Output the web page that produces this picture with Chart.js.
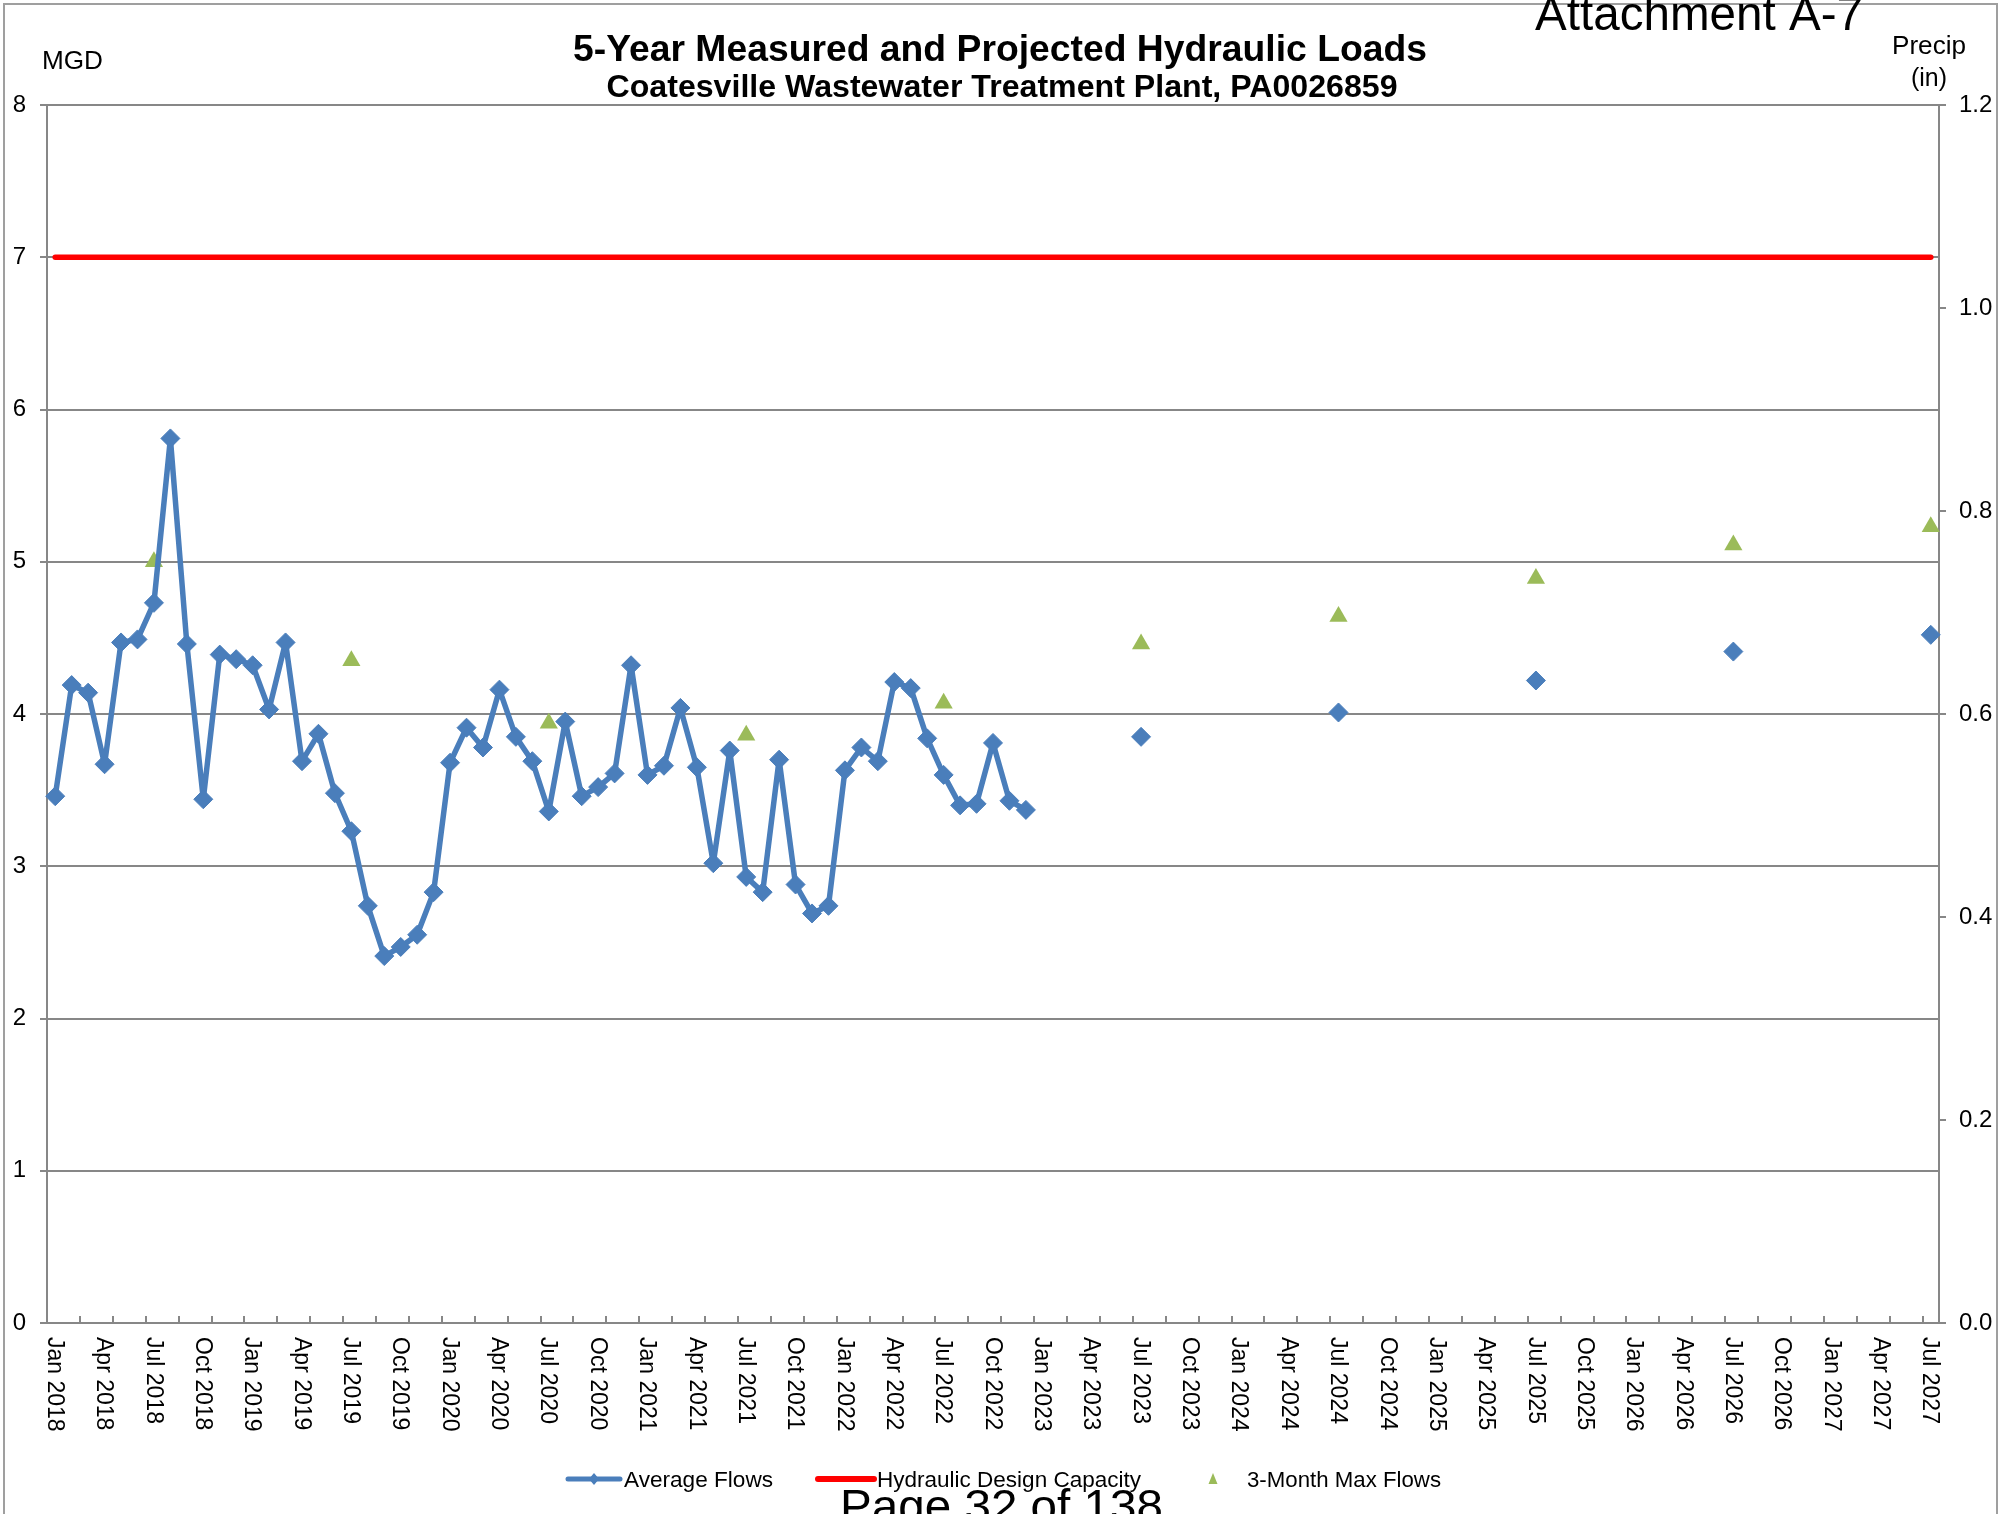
<!DOCTYPE html>
<html>
<head>
<meta charset="utf-8">
<script src="https://cdn.jsdelivr.net/npm/chart.js@4.4.1/dist/chart.umd.min.js"></script>
<style>
html,body{margin:0;padding:0;background:#fff;}
#wrap{position:relative;width:2011px;height:1514px;overflow:hidden;background:#fff;}
canvas{display:block;}
</style>
</head>
<body>
<div id="wrap"><canvas id="c" width="2011" height="1514"></canvas></div>
<script>
// ---------------- DATA ----------------
const monthNames = ['Jan','Feb','Mar','Apr','May','Jun','Jul','Aug','Sep','Oct','Nov','Dec'];
const firstYear = 2018, lastYear = 2027, lastMonthIndex = 6; // through Jul 2027
const categories = [];
for (let y = firstYear; y <= lastYear; y++) {
  for (let m = 0; m < 12; m++) {
    if (y === lastYear && m > lastMonthIndex) break;
    categories.push(monthNames[m] + ' ' + y);
  }
}

// Measured monthly average flows (MGD), Jan 2018 - Dec 2022
const measuredAvgFlows = [
  3.46, 4.19, 4.14, 3.67, 4.47, 4.49, 4.73, 5.81, 4.46, 3.44, 4.39, 4.36,
  4.32, 4.03, 4.47, 3.69, 3.87, 3.48, 3.23, 2.74, 2.41, 2.47, 2.55, 2.83,
  3.68, 3.91, 3.78, 4.16, 3.85, 3.69, 3.36, 3.95, 3.46, 3.52, 3.61, 4.32,
  3.60, 3.66, 4.04, 3.65, 3.02, 3.76, 2.93, 2.83, 3.70, 2.88, 2.69, 2.74,
  3.63, 3.78, 3.69, 4.21, 4.17, 3.84, 3.60, 3.40, 3.41, 3.81, 3.43, 3.37
];

// Projected average flows
const projectedMonths = ['Jul 2023','Jul 2024','Jul 2025','Jul 2026','Jul 2027'];
const projectedAvgFlows = [3.85, 4.01, 4.22, 4.41, 4.52];

// 3-month max flows
const maxFlowMonths = ['Jul 2018','Jul 2019','Jul 2020','Jul 2021','Jul 2022','Jul 2023','Jul 2024','Jul 2025','Jul 2026','Jul 2027'];
const maxFlows = [5.00, 4.35, 3.94, 3.86, 4.07, 4.46, 4.64, 4.89, 5.11, 5.23];

// Hydraulic design capacity (MGD)
const designCapacity = 7;

// Axis settings
const leftAxis = {min: 0, max: 8, step: 1};
const rightAxis = {min: 0, max: 1.2, step: 0.2};
const xLabelEvery = 3;   // a label every 3 months
const xTickEvery = 2;    // a tick mark every 2 months

// ---------------- STYLE ----------------
const FONT = '"Liberation Sans", Arial, Helvetica, sans-serif';
const BLUE = '#4A7EBB';
const GREEN = '#9BBB59';
const RED = '#FF0000';
const GRID = '#878787';
const FRAME = '#9f9f9f';

function fitText(ctx, text, x, y, size, weight, targetW, align) {
  ctx.font = weight + ' ' + size + 'px ' + FONT;
  const w = ctx.measureText(text).width;
  const sx = targetW ? targetW / w : 1;
  ctx.save();
  ctx.translate(x, y);
  ctx.scale(sx, 1);
  ctx.textAlign = align;
  ctx.textBaseline = 'alphabetic';
  ctx.fillStyle = '#000';
  ctx.fillText(text, 0, 0);
  ctx.restore();
}

const decor = {
  id: 'decor',
  afterDraw(chart) {
    const ctx = chart.ctx;
    const xs = chart.scales.x;
    const area = chart.chartArea;
    const n = categories.length;
    const catW = xs.getPixelForValue(1) - xs.getPixelForValue(0);

    // outer frame
    ctx.save();
    ctx.strokeStyle = FRAME;
    ctx.lineWidth = 2;
    ctx.beginPath();
    ctx.moveTo(4, 1514); ctx.lineTo(4, 4); ctx.lineTo(1997, 4); ctx.lineTo(1997, 1514);
    ctx.stroke();
    ctx.restore();

    // x tick marks (inside, pointing up)
    ctx.save();
    ctx.strokeStyle = GRID;
    ctx.lineWidth = 2;
    ctx.beginPath();
    for (let i = 0; i < n; i += xTickEvery) {
      const px = Math.round(xs.getPixelForValue(i) - catW / 2);
      ctx.moveTo(px, area.bottom);
      ctx.lineTo(px, area.bottom - 7);
    }
    ctx.stroke();
    ctx.restore();

    // x labels rotated clockwise
    ctx.save();
    ctx.fillStyle = '#000';
    ctx.font = '23px ' + FONT;
    ctx.textAlign = 'left';
    ctx.textBaseline = 'middle';
    for (let i = 0; i < n; i += xLabelEvery) {
      const px = xs.getPixelForValue(i);
      ctx.save();
      ctx.translate(px - 1, area.bottom + 14);
      ctx.rotate(Math.PI / 2);
      ctx.fillText(categories[i], 0, 0);
      ctx.restore();
    }
    ctx.restore();

    // titles and axis captions
    fitText(ctx, '5-Year Measured and Projected Hydraulic Loads', 1000, 61, 37, 'bold', 854, 'center');
    fitText(ctx, 'Coatesville Wastewater Treatment Plant, PA0026859', 1002, 97, 31, 'bold', 791, 'center');
    fitText(ctx, 'MGD', 42, 69, 26, 'normal', 61, 'left');
    fitText(ctx, 'Precip', 1929, 54, 25, 'normal', 74, 'center');
    fitText(ctx, '(in)', 1929, 86, 25, 'normal', 36, 'center');
    fitText(ctx, 'Attachment A-7', 1535, 30, 48, 'normal', 328, 'left');
    fitText(ctx, 'Page 32 of 138', 840, 1522, 47, 'normal', 323, 'left');

    // legend
    const ly = 1479;
    ctx.save();
    ctx.lineCap = 'round';
    ctx.strokeStyle = BLUE; ctx.lineWidth = 5;
    ctx.beginPath(); ctx.moveTo(568, ly); ctx.lineTo(620, ly); ctx.stroke();
    ctx.fillStyle = BLUE;
    ctx.beginPath(); ctx.moveTo(594, ly - 6); ctx.lineTo(599, ly); ctx.lineTo(594, ly + 6); ctx.lineTo(589, ly); ctx.closePath(); ctx.fill();
    ctx.strokeStyle = RED; ctx.lineWidth = 6;
    ctx.beginPath(); ctx.moveTo(818, ly); ctx.lineTo(874, ly); ctx.stroke();
    ctx.fillStyle = GREEN;
    ctx.beginPath(); ctx.moveTo(1213, ly - 6); ctx.lineTo(1217.5, ly + 5); ctx.lineTo(1208.5, ly + 5); ctx.closePath(); ctx.fill();
    ctx.restore();
    fitText(ctx, 'Average Flows', 624, ly + 8, 22.5, 'normal', 149, 'left');
    fitText(ctx, 'Hydraulic Design Capacity', 877, ly + 8, 22.5, 'normal', 264, 'left');
    fitText(ctx, '3-Month Max Flows', 1247, ly + 8, 22.5, 'normal', 194, 'left');
  }
};

const ctx = document.getElementById('c').getContext('2d');
new Chart(ctx, {
  type: 'line',
  data: {
    labels: categories,
    datasets: [
      {
        label: 'Average Flows',
        data: measuredAvgFlows.map((v, i) => ({x: categories[i], y: v})),
        borderColor: BLUE, backgroundColor: BLUE,
        borderWidth: 5.5, tension: 0, borderJoinStyle: 'round', borderCapStyle: 'round',
        pointStyle: 'rectRot', pointRadius: 9.5, pointBorderWidth: 1,
        pointBackgroundColor: BLUE, pointBorderColor: BLUE,
        yAxisID: 'y', order: 1
      },
      {
        label: 'Average Flows (projected)',
        data: projectedMonths.map((m, i) => ({x: m, y: projectedAvgFlows[i]})),
        showLine: false,
        borderColor: BLUE, backgroundColor: BLUE,
        pointStyle: 'rectRot', pointRadius: 9.5, pointBorderWidth: 1,
        pointBackgroundColor: BLUE, pointBorderColor: BLUE,
        yAxisID: 'y', order: 1
      },
      {
        label: '3-Month Max Flows',
        data: maxFlowMonths.map((m, i) => ({x: m, y: maxFlows[i]})),
        showLine: false,
        borderColor: GREEN, backgroundColor: GREEN,
        pointStyle: 'triangle', pointRadius: 10.5, pointBorderWidth: 0,
        pointBackgroundColor: GREEN, pointBorderColor: GREEN,
        yAxisID: 'y', order: 2
      },
      {
        label: 'Hydraulic Design Capacity',
        data: [{x: categories[0], y: designCapacity}, {x: categories[categories.length - 1], y: designCapacity}],
        borderColor: RED, backgroundColor: RED,
        borderWidth: 5.5, borderCapStyle: 'round', pointRadius: 0,
        yAxisID: 'y', order: 3
      }
    ]
  },
  options: {
    responsive: false,
    animation: false,
    events: [],
    layout: {padding: {top: 105, left: 0, right: 0, bottom: 0}},
    plugins: {legend: {display: false}, tooltip: {enabled: false}, title: {display: false}},
    scales: {
      x: {
        type: 'category', offset: true,
        grid: {display: false},
        border: {display: true, color: GRID, width: 2},
        ticks: {display: false},
        afterFit(s) { s.height = 191; }
      },
      y: {
        position: 'left', min: leftAxis.min, max: leftAxis.max,
        ticks: {stepSize: leftAxis.step, font: {family: FONT, size: 24}, color: '#000', padding: 14},
        grid: {color: GRID, lineWidth: 2, tickLength: 7},
        border: {color: GRID, width: 2},
        afterFit(s) { s.width = 47; }
      },
      y1: {
        position: 'right', min: rightAxis.min, max: rightAxis.max,
        ticks: {stepSize: rightAxis.step, font: {family: FONT, size: 24}, color: '#000', padding: 13,
                callback: v => Number(v).toFixed(1)},
        grid: {drawOnChartArea: false, color: GRID, lineWidth: 2, tickLength: 7},
        border: {color: GRID, width: 2},
        afterFit(s) { s.width = 72; }
      }
    }
  },
  plugins: [decor]
});
</script>
</body>
</html>
